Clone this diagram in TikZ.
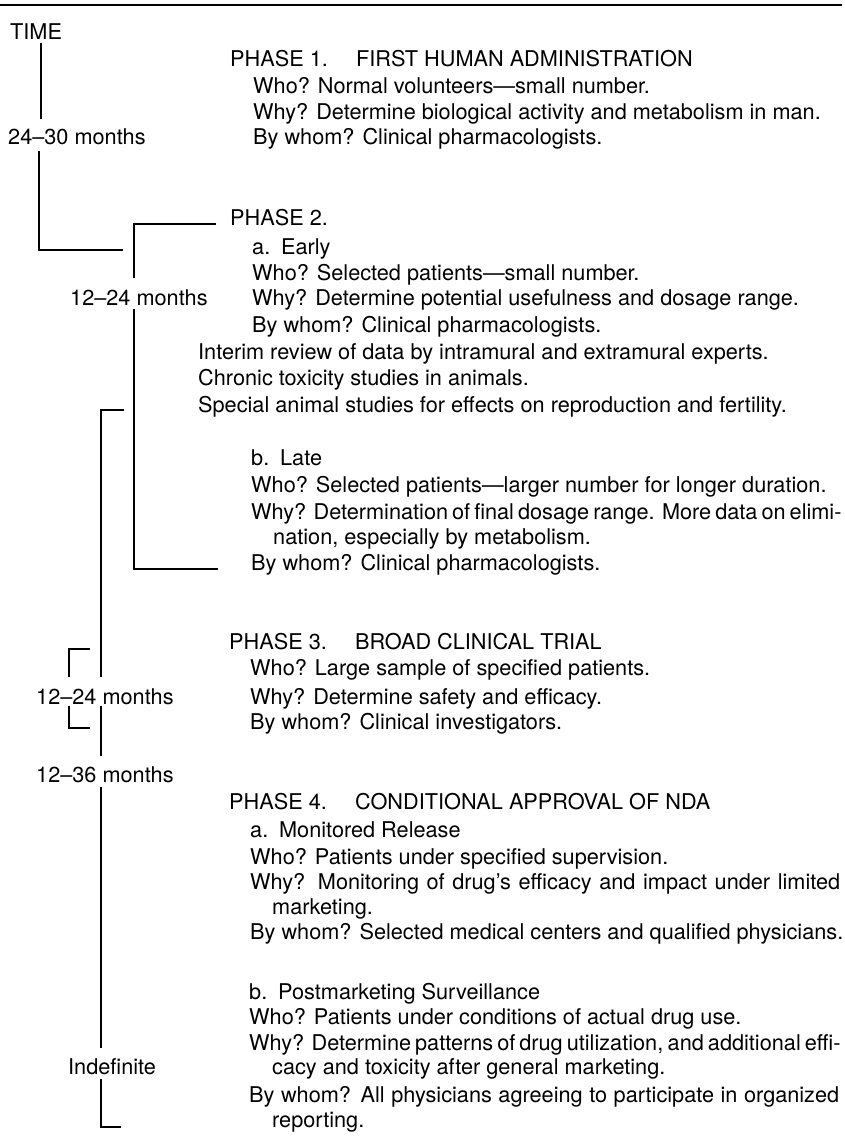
\documentclass[tikz,border=0pt]{standalone}
\usepackage{fontspec}
\setmainfont{TeX Gyre Heros}
\begin{document}
\begin{tikzpicture}[x=1pt,y=-1pt,
  txt/.style={anchor=base west,inner sep=0pt,font=\fontsize{21.7}{26}\selectfont},
  ln/.style={line width=1.2pt,line cap=rect}]
\useasboundingbox (0,0) rectangle (844,1142);
\newcommand\just[1]{\makebox[590pt][s]{#1}}
% top rule
\coordinate (r0) at (0,5);
\coordinate (r1) at (842,5);
\draw[line width=2pt] (r0) -- (r1);
% time labels
\node[txt] (time) at (10,40) {TIME};
\node[txt] (t1) at (8,145) {24--30 months};
\node[txt] (t2) at (70,305) {12--24 months};
\node[txt] (t3) at (36,704) {12--24 months};
\node[txt] (t4) at (36,782) {12--36 months};
\node[txt] (t5) at (68,1074) {Indefinite};
% phase 1
\node[txt] (p1) at (230,67) {PHASE 1.\hspace{1.3em}FIRST HUMAN ADMINISTRATION};
\node[txt] (p1a) at (253,94) {Who? Normal volunteers—small number.};
\node[txt] (p1b) at (253,120) {Why? Determine biological activity and metabolism in man.};
\node[txt] (p1c) at (253,145) {By whom? Clinical pharmacologists.};
% phase 2
\node[txt] (p2) at (230,225) {PHASE 2.};
\node[txt] (p2a) at (252,254) {a.\hspace{0.5em}Early};
\node[txt] (p2b) at (252,280) {Who? Selected patients—small number.};
\node[txt] (p2c) at (252,305) {Why? Determine potential usefulness and dosage range.};
\node[txt] (p2d) at (252,332) {By whom? Clinical pharmacologists.};
\node[txt] (p2e) at (198,359) {Interim review of data by intramural and extramural experts.};
\node[txt] (p2f) at (198,385) {Chronic toxicity studies in animals.};
\node[txt] (p2g) at (198,412) {Special animal studies for effects on reproduction and fertility.};
\node[txt] (p2h) at (251,465) {b.\hspace{0.5em}Late};
\node[txt] (p2i) at (251,492) {Who? Selected patients—larger number for longer duration.};
\node[txt] (p2j) at (251,519) {\just{Why? Determination of final dosage range. More data on elimi-}};
\node[txt] (p2k) at (273,544) {nation, especially by metabolism.};
\node[txt] (p2l) at (251,570) {By whom? Clinical pharmacologists.};
% phase 3
\node[txt] (p3) at (229,649) {PHASE 3.\hspace{1.3em}BROAD CLINICAL TRIAL};
\node[txt] (p3a) at (250,675) {Who? Large sample of specified patients.};
\node[txt] (p3b) at (250,704) {Why? Determine safety and efficacy.};
\node[txt] (p3c) at (250,729) {By whom? Clinical investigators.};
% phase 4
\node[txt] (p4) at (229,809) {PHASE 4.\hspace{1.3em}CONDITIONAL APPROVAL OF NDA};
\node[txt] (p4a) at (250,837) {a.\hspace{0.5em}Monitored Release};
\node[txt] (p4b) at (250,864) {Who? Patients under specified supervision.};
\node[txt] (p4c) at (250,889) {\just{Why? Monitoring of drug’s efficacy and impact under limited}};
\node[txt] (p4d) at (272,914) {marketing.};
\node[txt] (p4e) at (250,939) {By whom? Selected medical centers and qualified physicians.};
\node[txt] (p4f) at (249,999) {b.\hspace{0.5em}Postmarketing Surveillance};
\node[txt] (p4g) at (249,1024) {Who? Patients under conditions of actual drug use.};
\node[txt] (p4h) at (249,1050) {\just{Why? Determine patterns of drug utilization, and additional effi-}};
\node[txt] (p4i) at (272,1074) {cacy and toxicity after general marketing.};
\node[txt] (p4j) at (249,1102) {\just{By whom? All physicians agreeing to participate in organized}};
\node[txt] (p4k) at (272,1127) {reporting.};
% connector end points
\coordinate (a1) at (41,44);  \coordinate (a2) at (41,118);
\coordinate (b1) at (39,152); \coordinate (b2) at (39,250); \coordinate (b3) at (122,250);
\coordinate (c1) at (215,224); \coordinate (c2) at (134,224); \coordinate (c3) at (134,277);
\coordinate (d1) at (134,310); \coordinate (d2) at (134,569); \coordinate (d3) at (217,569);
\coordinate (e1) at (123,410); \coordinate (e2) at (101,410); \coordinate (e3) at (101,676);
\coordinate (f1) at (89,649); \coordinate (f2) at (69,649); \coordinate (f3) at (69,676);
\coordinate (g1) at (69,707); \coordinate (g2) at (69,728); \coordinate (g3) at (89,728);
\coordinate (h1) at (101,707); \coordinate (h2) at (101,755);
\coordinate (i1) at (101,788); \coordinate (i2) at (101,1047);
\coordinate (j1) at (101,1080); \coordinate (j2) at (101,1127); \coordinate (j3) at (120,1127);
\draw[ln] (a1) -- (a2);
\draw[ln] (b1) -- (b2) -- (b3);
\draw[ln] (c1) -- (c2) -- (c3);
\draw[ln] (d1) -- (d2) -- (d3);
\draw[ln] (e1) -- (e2) -- (e3);
\draw[ln] (f1) -- (f2) -- (f3);
\draw[ln] (g1) -- (g2) -- (g3);
\draw[ln] (h1) -- (h2);
\draw[ln] (i1) -- (i2);
\draw[ln] (j1) -- (j2) -- (j3);
\end{tikzpicture}
\end{document}
